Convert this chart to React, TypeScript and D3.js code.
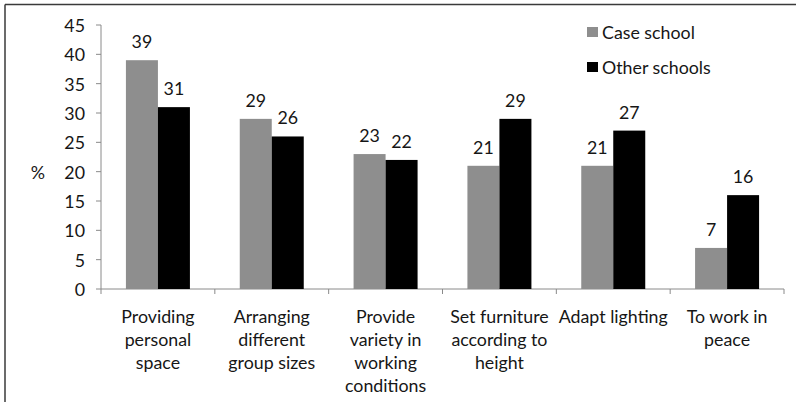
import React from "react";
import * as d3 from "d3";

// Chart data
const categories: string[][] = [
  ["Providing", "personal", "space"],
  ["Arranging", "different", "group sizes"],
  ["Provide", "variety in", "working", "conditions"],
  ["Set furniture", "according to", "height"],
  ["Adapt lighting"],
  ["To work in", "peace"],
];
const seriesNames = ["Case school", "Other schools"];
const caseSchool = [39, 29, 23, 21, 21, 7];
const otherSchools = [31, 26, 22, 29, 27, 16];
const yTicks = [0, 5, 10, 15, 20, 25, 30, 35, 40, 45];
const yLabel = "%";

const W = 796;
const H = 402;
const FONT = "Lato, 'Open Sans', sans-serif";
const FS = 17.8;
const TEXT = "#161616";
const AXIS = "#8a8a8a";
const colors = ["#8e8e8e", "#000000"];

export default function App() {
  const plot = { left: 101, right: 784, top: 25, bottom: 289 };
  const y = d3.scaleLinear().domain([0, 45]).range([plot.bottom, plot.top]);
  const idx = categories.map((_, i) => String(i));
  const x = d3.scaleBand().domain(idx).range([plot.left, plot.right]).paddingInner(0).paddingOuter(0);
  const barW = 32;
  const inner = d3
    .scaleBand()
    .domain(["0", "1"])
    .range([x.bandwidth() / 2 - barW, x.bandwidth() / 2 + barW]);
  const series = [caseSchool, otherSchools];
  const boundaries = idx.map((d) => x(d)!).concat([plot.right]);

  return (
    <svg
      width={W}
      height={H}
      style={{ position: "fixed", left: 0, top: 0, background: "#fff" }}
      fontFamily={FONT}
    >
      <rect x={0} y={0} width={W} height={H} fill="#fff" />
      {/* frame */}
      <line x1={5} y1={4.5} x2={W} y2={4.5} stroke="#3a3a3a" strokeWidth={1.5} />
      <line x1={5} y1={4.5} x2={5} y2={H} stroke="#3a3a3a" strokeWidth={1.5} />

      {/* y axis */}
      <line x1={plot.left} y1={plot.top} x2={plot.left} y2={plot.bottom} stroke={AXIS} />
      {yTicks.map((t) => (
        <g key={t}>
          <line x1={plot.left - 5} x2={plot.left} y1={y(t)} y2={y(t)} stroke={AXIS} />
          <text
            x={85}
            y={y(t)}
            textAnchor="end"
            dominantBaseline="central"
            fontSize={FS}
            fill={TEXT}
          >
            {t}
          </text>
        </g>
      ))}
      <text x={38} y={172} textAnchor="middle" dominantBaseline="central" fontSize={FS} fill={TEXT}>
        {yLabel}
      </text>

      {/* x axis */}
      <line x1={plot.left} y1={plot.bottom} x2={plot.right} y2={plot.bottom} stroke={AXIS} />
      {boundaries.map((bx, i) => (
        <line key={i} x1={bx} x2={bx} y1={plot.bottom} y2={plot.bottom + 5} stroke={AXIS} />
      ))}

      {/* bars and value labels */}
      {series.map((vals, s) =>
        vals.map((v, i) => {
          const bx = x(String(i))! + inner(String(s))!;
          return (
            <g key={`${s}-${i}`}>
              <rect
                x={bx}
                y={y(v)}
                width={inner.bandwidth()}
                height={y(0) - y(v)}
                fill={colors[s]}
              />
              <text
                x={bx + inner.bandwidth() / 2}
                y={y(v) - 19}
                textAnchor="middle"
                dominantBaseline="central"
                fontSize={FS}
                fill={TEXT}
              >
                {v}
              </text>
            </g>
          );
        })
      )}

      {/* category labels */}
      {categories.map((lines, i) => (
        <text
          key={i}
          x={x(String(i))! + x.bandwidth() / 2}
          textAnchor="middle"
          fontSize={FS}
          fill={TEXT}
        >
          {lines.map((ln, j) => (
            <tspan key={j} x={x(String(i))! + x.bandwidth() / 2} y={316 + j * 23} dominantBaseline="central">
              {ln}
            </tspan>
          ))}
        </text>
      ))}

      {/* legend */}
      {seriesNames.map((name, s) => (
        <g key={name} transform={`translate(587, ${32 + s * 35})`}>
          <rect x={0} y={-5} width={11} height={10} fill={colors[s]} />
          <text x={15} y={0} dominantBaseline="central" fontSize={FS} fill={TEXT}>
            {name}
          </text>
        </g>
      ))}
    </svg>
  );
}
